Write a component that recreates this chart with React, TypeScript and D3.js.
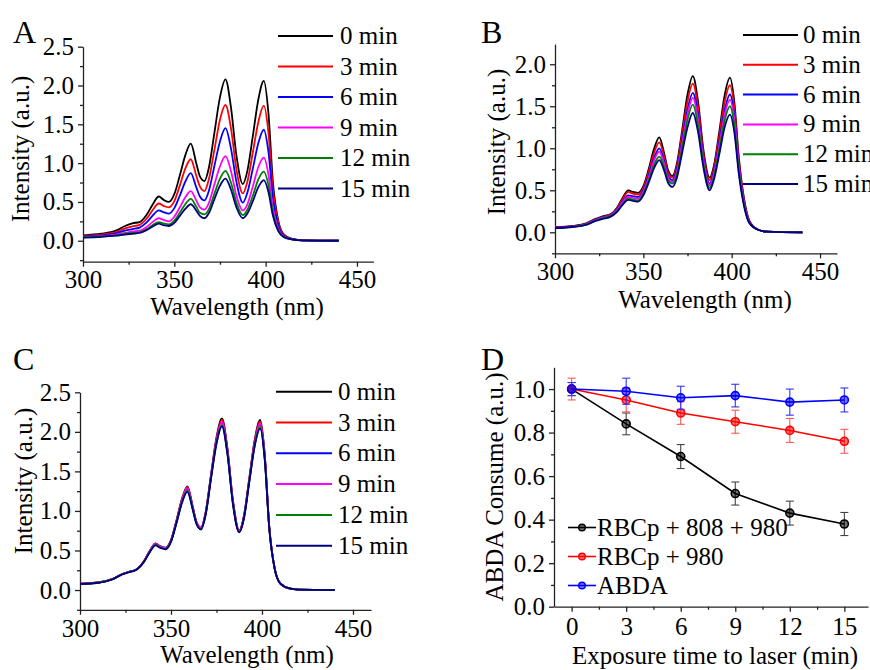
import React, { useEffect, useRef } from 'react';
import * as d3 from 'd3';

// ---------- data ----------
const wavelengths = [300, 310, 318, 323, 327, 331, 335, 338, 341.5, 344, 347, 350, 353, 356, 359, 362, 364, 366.5, 369, 372, 375, 378, 381, 384, 387.5, 390, 393, 396, 399, 401.5, 404, 407, 410, 415, 420, 440];
const timeLabels = ['0 min', '3 min', '6 min', '9 min', '12 min', '15 min'];
const seriesColors = ['#000000', '#ff0000', '#0000ff', '#ff00ff', '#008000', '#000080'];

// Panel A
const a0 = [0.07, 0.09, 0.13, 0.19, 0.225, 0.24, 0.34, 0.46, 0.57, 0.53, 0.50, 0.60, 0.84, 1.10, 1.25, 1.00, 0.83, 0.77, 0.95, 1.40, 1.85, 2.08, 1.72, 1.10, 0.73, 0.90, 1.35, 1.82, 2.06, 1.65, 0.75, 0.25, 0.08, 0.02, 0.005, 0];
const a3 = [0.065, 0.08, 0.11, 0.16, 0.185, 0.205, 0.29, 0.39, 0.48, 0.45, 0.43, 0.51, 0.71, 0.93, 1.05, 0.84, 0.70, 0.64, 0.80, 1.18, 1.56, 1.75, 1.45, 0.92, 0.61, 0.76, 1.14, 1.53, 1.74, 1.40, 0.66, 0.23, 0.075, 0.02, 0.005, 0];
const a6 = [0.055, 0.07, 0.095, 0.13, 0.15, 0.17, 0.24, 0.32, 0.39, 0.37, 0.35, 0.42, 0.58, 0.76, 0.87, 0.69, 0.57, 0.52, 0.65, 0.97, 1.28, 1.45, 1.19, 0.76, 0.49, 0.62, 0.93, 1.26, 1.43, 1.15, 0.55, 0.19, 0.065, 0.02, 0.005, 0];
const a9 = [0.05, 0.06, 0.08, 0.10, 0.12, 0.13, 0.18, 0.24, 0.29, 0.27, 0.25, 0.31, 0.43, 0.56, 0.64, 0.52, 0.43, 0.40, 0.49, 0.73, 0.96, 1.09, 0.90, 0.58, 0.39, 0.47, 0.70, 0.95, 1.07, 0.86, 0.42, 0.15, 0.055, 0.015, 0.005, 0];
const a12 = [0.045, 0.055, 0.07, 0.09, 0.10, 0.11, 0.15, 0.20, 0.24, 0.225, 0.21, 0.26, 0.36, 0.47, 0.54, 0.44, 0.36, 0.34, 0.41, 0.61, 0.80, 0.90, 0.75, 0.49, 0.33, 0.40, 0.58, 0.79, 0.89, 0.72, 0.36, 0.13, 0.05, 0.015, 0.005, 0];
const a15 = [0.04, 0.05, 0.065, 0.08, 0.09, 0.10, 0.14, 0.18, 0.22, 0.20, 0.19, 0.23, 0.32, 0.41, 0.47, 0.39, 0.32, 0.29, 0.36, 0.54, 0.71, 0.80, 0.66, 0.43, 0.29, 0.35, 0.51, 0.69, 0.78, 0.63, 0.32, 0.12, 0.045, 0.015, 0.005, 0];

// Panel B
const b0 = [0.06, 0.075, 0.11, 0.16, 0.19, 0.21, 0.29, 0.40, 0.50, 0.48, 0.47, 0.55, 0.75, 0.99, 1.13, 0.92, 0.74, 0.67, 0.82, 1.22, 1.64, 1.86, 1.55, 0.98, 0.65, 0.80, 1.20, 1.63, 1.84, 1.55, 0.90, 0.40, 0.14, 0.03, 0.008, 0];
const b3 = [0.06, 0.073, 0.105, 0.155, 0.185, 0.205, 0.28, 0.385, 0.48, 0.46, 0.45, 0.53, 0.72, 0.94, 1.07, 0.88, 0.71, 0.65, 0.79, 1.17, 1.56, 1.77, 1.48, 0.94, 0.62, 0.77, 1.15, 1.55, 1.75, 1.48, 0.86, 0.38, 0.13, 0.03, 0.008, 0];
const b6 = [0.055, 0.07, 0.10, 0.15, 0.18, 0.20, 0.27, 0.36, 0.44, 0.43, 0.42, 0.50, 0.68, 0.88, 1.00, 0.83, 0.67, 0.62, 0.75, 1.10, 1.46, 1.66, 1.39, 0.89, 0.58, 0.73, 1.08, 1.45, 1.64, 1.39, 0.81, 0.36, 0.12, 0.03, 0.008, 0];
const b9 = [0.055, 0.068, 0.098, 0.145, 0.175, 0.195, 0.26, 0.35, 0.42, 0.41, 0.40, 0.48, 0.65, 0.85, 0.96, 0.80, 0.65, 0.60, 0.72, 1.06, 1.41, 1.60, 1.34, 0.86, 0.56, 0.70, 1.04, 1.40, 1.58, 1.34, 0.78, 0.35, 0.12, 0.03, 0.008, 0];
const b12 = [0.05, 0.065, 0.095, 0.14, 0.17, 0.19, 0.25, 0.33, 0.40, 0.39, 0.38, 0.46, 0.62, 0.80, 0.90, 0.76, 0.62, 0.58, 0.69, 1.01, 1.34, 1.52, 1.27, 0.82, 0.53, 0.67, 0.99, 1.33, 1.50, 1.27, 0.74, 0.33, 0.11, 0.03, 0.008, 0];
const b15 = [0.05, 0.063, 0.09, 0.135, 0.16, 0.18, 0.24, 0.32, 0.385, 0.375, 0.365, 0.44, 0.59, 0.76, 0.86, 0.72, 0.59, 0.54, 0.65, 0.95, 1.25, 1.42, 1.19, 0.77, 0.50, 0.63, 0.93, 1.25, 1.40, 1.19, 0.70, 0.31, 0.11, 0.03, 0.008, 0];

// Panel C
const c0 = [0.08, 0.095, 0.14, 0.20, 0.23, 0.26, 0.36, 0.48, 0.59, 0.555, 0.535, 0.63, 0.88, 1.15, 1.31, 1.05, 0.86, 0.79, 0.98, 1.46, 1.93, 2.17, 1.79, 1.14, 0.75, 0.93, 1.41, 1.90, 2.15, 1.72, 0.80, 0.27, 0.085, 0.02, 0.005, 0];
const c3 = [0.08, 0.095, 0.14, 0.20, 0.23, 0.26, 0.36, 0.48, 0.585, 0.55, 0.53, 0.63, 0.87, 1.14, 1.30, 1.04, 0.86, 0.79, 0.97, 1.45, 1.91, 2.15, 1.78, 1.13, 0.75, 0.92, 1.40, 1.88, 2.13, 1.71, 0.80, 0.27, 0.085, 0.02, 0.005, 0];
const c6 = [0.078, 0.093, 0.138, 0.198, 0.228, 0.258, 0.355, 0.475, 0.58, 0.545, 0.525, 0.62, 0.86, 1.12, 1.28, 1.03, 0.85, 0.78, 0.96, 1.43, 1.88, 2.11, 1.75, 1.11, 0.74, 0.91, 1.38, 1.85, 2.09, 1.68, 0.79, 0.27, 0.085, 0.02, 0.005, 0];
const c9 = [0.078, 0.094, 0.139, 0.199, 0.229, 0.259, 0.357, 0.478, 0.583, 0.548, 0.528, 0.625, 0.865, 1.13, 1.29, 1.035, 0.855, 0.785, 0.965, 1.44, 1.89, 2.12, 1.76, 1.12, 0.745, 0.915, 1.39, 1.86, 2.10, 1.69, 0.795, 0.27, 0.085, 0.02, 0.005, 0];
const c12 = [0.077, 0.092, 0.137, 0.197, 0.227, 0.256, 0.352, 0.47, 0.57, 0.54, 0.52, 0.615, 0.85, 1.11, 1.26, 1.02, 0.84, 0.77, 0.95, 1.42, 1.86, 2.08, 1.73, 1.10, 0.73, 0.90, 1.37, 1.83, 2.06, 1.66, 0.78, 0.265, 0.083, 0.02, 0.005, 0];
const c15 = [0.076, 0.091, 0.136, 0.196, 0.226, 0.255, 0.35, 0.465, 0.565, 0.535, 0.515, 0.61, 0.845, 1.10, 1.24, 1.01, 0.835, 0.765, 0.945, 1.41, 1.85, 2.07, 1.72, 1.09, 0.73, 0.895, 1.36, 1.82, 2.04, 1.65, 0.78, 0.265, 0.083, 0.02, 0.005, 0];

// Panel D
const exposureTimes = [0, 3, 6, 9, 12, 15];
const dLabels = ['RBCp + 808 + 980', 'RBCp + 980', 'ABDA'];
const dColors = ['#000000', '#ff0000', '#0000ff'];
const dErrColors = ['#444444', '#ff5555', '#3333ff'];
const rbc808980 = [1.0, 0.84, 0.69, 0.52, 0.43, 0.38];
const rbc808980Err = [0.03, 0.05, 0.055, 0.053, 0.055, 0.053];
const rbc980 = [1.0, 0.95, 0.89, 0.85, 0.81, 0.76];
const rbc980Err = [0.05, 0.055, 0.052, 0.053, 0.055, 0.055];
const abda = [1.0, 0.99, 0.96, 0.97, 0.94, 0.95];
const abdaErr = [0.03, 0.06, 0.053, 0.052, 0.06, 0.055];

const wlTicks = [300, 350, 400, 450];
const wlMinor = [325, 375, 425];
const intTicksAC = [0, 0.5, 1.0, 1.5, 2.0, 2.5];
const intTicksB = [0, 0.5, 1.0, 1.5, 2.0];
const intMinor = [-0.25, 0.25, 0.75, 1.25, 1.75, 2.25];
const timeTicks = [0, 3, 6, 9, 12, 15];
const timeMinor = [1.5, 4.5, 7.5, 10.5, 13.5];
const consumeTicks = [0, 0.2, 0.4, 0.6, 0.8, 1.0];
const consumeMinor = [0.1, 0.3, 0.5, 0.7, 0.9];

const FF = "'Liberation Serif', 'Times New Roman', Tinos, 'DejaVu Serif', serif";
const FS = 25;

function txt(sel: any) {
  return sel.style('font-family', FF).style('font-size', FS + 'px').attr('fill', '#000');
}

function styleAxis(g: any) {
  g.attr('font-family', null).attr('font-size', null);
  g.select('.domain').attr('stroke', '#222').attr('stroke-width', 1.3);
  g.selectAll('.tick line').attr('stroke', '#222').attr('stroke-width', 1.3);
  txt(g.selectAll('text'));
}

function drawAxes(svg: any, x: any, y: any, o: any) {
  const y0 = y.range()[0];
  const x0 = x.range()[0];
  const gx = svg.append('g').attr('transform', `translate(0,${y0})`)
    .call(d3.axisBottom(x).tickValues(o.xTicks).tickSize(5).tickSizeOuter(0).tickPadding(o.xPad ?? 4).tickFormat(o.xFormat));
  styleAxis(gx);
  const gxm = svg.append('g').attr('transform', `translate(0,${y0})`)
    .call(d3.axisBottom(x).tickValues(o.xMinor).tickSize(3).tickFormat(() => ''));
  gxm.select('.domain').remove();
  styleAxis(gxm);
  const gy = svg.append('g').attr('transform', `translate(${x0},0)`)
    .call(d3.axisLeft(y).tickValues(o.yTicks).tickSize(5).tickSizeOuter(0).tickPadding(o.yPad ?? 4).tickFormat(d3.format('.1f')));
  styleAxis(gy);
  const gym = svg.append('g').attr('transform', `translate(${x0},0)`)
    .call(d3.axisLeft(y).tickValues(o.yMinor.filter((v: number) => v >= y.domain()[0] && v <= y.domain()[1])).tickSize(3).tickFormat(() => ''));
  gym.select('.domain').remove();
  styleAxis(gym);

  txt(svg.append('text').attr('x', o.xLabel[0]).attr('y', o.xLabel[1]).attr('text-anchor', 'middle')).text(o.xTitle);
  txt(svg.append('text').attr('transform', `translate(${o.yLabel[0]},${o.yLabel[1]}) rotate(-90)`).attr('text-anchor', 'middle')).text(o.yTitle);
  svg.append('text').attr('x', o.letter[0]).attr('y', o.letter[1])
    .style('font-family', FF).style('font-size', '32px').text(o.letterText);
}

function drawSpectrum(svg: any, cfg: any) {
  const x = d3.scaleLinear().domain(cfg.xDomain).range(cfg.xRange);
  const y = d3.scaleLinear().domain(cfg.yDomain).range(cfg.yRange);
  drawAxes(svg, x, y, {
    xTicks: wlTicks, xMinor: wlMinor, xFormat: d3.format('d'),
    yTicks: cfg.yTicks, yMinor: intMinor,
    xTitle: 'Wavelength (nm)', yTitle: 'Intensity (a.u.)',
    xLabel: cfg.xLabel, yLabel: cfg.yLabel, letter: cfg.letter, letterText: cfg.letterText,
  });
  const line = d3.line<number>().x((_, i) => x(wavelengths[i])).y((d) => y(d)).curve(d3.curveMonotoneX);
  cfg.series.forEach((s: number[], i: number) => {
    svg.append('path').attr('d', line(s)).attr('fill', 'none').attr('stroke', seriesColors[i]).attr('stroke-width', 1.8);
  });
  timeLabels.forEach((t, i) => {
    const ly = cfg.legendY0 + i * cfg.legendDy;
    svg.append('line').attr('x1', cfg.legendX[0]).attr('x2', cfg.legendX[1]).attr('y1', ly).attr('y2', ly)
      .attr('stroke', seriesColors[i]).attr('stroke-width', 2);
    txt(svg.append('text').attr('x', cfg.legendX[2]).attr('y', ly + 8)).text(t);
  });
}

function drawConsume(svg: any) {
  const x = d3.scaleLinear().domain([-0.97, 16.3]).range([554, 868]);
  const y = d3.scaleLinear().domain([0, 1.1]).range([606.7, 367.3]);
  drawAxes(svg, x, y, {
    xTicks: timeTicks, xMinor: timeMinor, xFormat: d3.format('d'), xPad: 6,
    yTicks: consumeTicks, yMinor: consumeMinor, yPad: 4,
    xTitle: 'Exposure time to laser (min)', yTitle: 'ABDA Consume (a.u.)',
    xLabel: [715, 664], yLabel: [503, 487], letter: [481, 370], letterText: 'D',
  });
  const sets = [
    { v: rbc808980, e: rbc808980Err },
    { v: rbc980, e: rbc980Err },
    { v: abda, e: abdaErr },
  ];
  const line = d3.line<number>().x((_, i) => x(exposureTimes[i])).y((d) => y(d));
  sets.forEach((s, k) => {
    const c = dColors[k];
    const ec = dErrColors[k];
    s.v.forEach((v, i) => {
      const cx = x(exposureTimes[i]);
      const top = y(v + s.e[i]);
      const bot = y(v - s.e[i]);
      svg.append('line').attr('x1', cx).attr('x2', cx).attr('y1', top).attr('y2', bot).attr('stroke', ec).attr('stroke-width', 1.1);
      svg.append('line').attr('x1', cx - 4).attr('x2', cx + 4).attr('y1', top).attr('y2', top).attr('stroke', ec).attr('stroke-width', 1.1);
      svg.append('line').attr('x1', cx - 4).attr('x2', cx + 4).attr('y1', bot).attr('y2', bot).attr('stroke', ec).attr('stroke-width', 1.1);
    });
    svg.append('path').attr('d', line(s.v)).attr('fill', 'none').attr('stroke', c).attr('stroke-width', 1.6);
    s.v.forEach((v, i) => {
      svg.append('circle').attr('cx', x(exposureTimes[i])).attr('cy', y(v)).attr('r', 4)
        .attr('fill', c).attr('fill-opacity', 0.55).attr('stroke', c).attr('stroke-width', 1.6);
    });
  });
  dLabels.forEach((t, k) => {
    const ly = 527.5 + k * 29;
    svg.append('line').attr('x1', 568).attr('x2', 596).attr('y1', ly).attr('y2', ly).attr('stroke', dColors[k]).attr('stroke-width', 1.6);
    svg.append('circle').attr('cx', 582).attr('cy', ly).attr('r', 3.3)
      .attr('fill', dColors[k]).attr('fill-opacity', 0.55).attr('stroke', dColors[k]).attr('stroke-width', 1.4);
    txt(svg.append('text').attr('x', 597).attr('y', ly + 8)).text(t);
  });
}

export default function App() {
  const ref = useRef<SVGSVGElement>(null);
  useEffect(() => {
    const svg = d3.select(ref.current);
    svg.selectAll('*').remove();
    svg.append('rect').attr('width', 870).attr('height', 670).attr('fill', '#fff');
    drawSpectrum(svg, {
      xDomain: [300, 459], xRange: [83, 373.4], yDomain: [-0.27, 2.5], yRange: [261.7, 46.7],
      yTicks: intTicksAC, series: [a0, a3, a6, a9, a12, a15],
      xLabel: [237, 315], yLabel: [29, 149], letter: [13, 43], letterText: 'A',
      legendX: [278, 333, 340], legendY0: 36, legendDy: 30.5,
    });
    drawSpectrum(svg, {
      xDomain: [300, 459.6], xRange: [555, 837], yDomain: [-0.25, 2.24], yRange: [253.3, 44.1],
      yTicks: intTicksB, series: [b0, b3, b6, b9, b12, b15],
      xLabel: [705, 308], yLabel: [505, 142], letter: [481, 43], letterText: 'B',
      legendX: [743, 798, 803], legendY0: 35, legendDy: 29.8,
    });
    drawSpectrum(svg, {
      xDomain: [300, 459.9], xRange: [80, 371], yDomain: [-0.25, 2.5], yRange: [609.8, 392.3],
      yTicks: intTicksAC, series: [c0, c3, c6, c9, c12, c15],
      xLabel: [247, 663], yLabel: [32, 481], letter: [13, 370], letterText: 'C',
      legendX: [276, 332, 338], legendY0: 391.7, legendDy: 30.8,
    });
    drawConsume(svg);
  }, []);
  return (
    <svg ref={ref} width={870} height={670} style={{ position: 'absolute', left: 0, top: 0 }} />
  );
}
